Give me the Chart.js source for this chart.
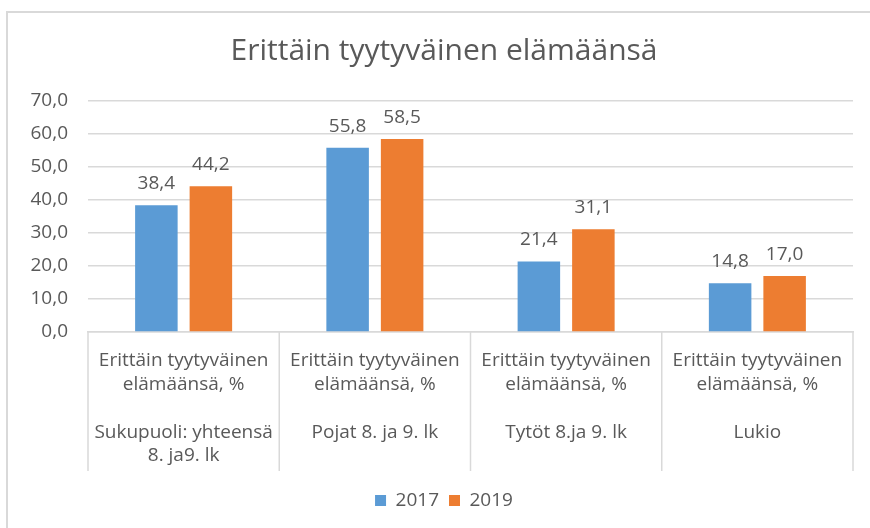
<!DOCTYPE html>
<html>
<head>
<meta charset="utf-8">
<script src="https://cdn.jsdelivr.net/npm/chart.js@4.4.1/dist/chart.umd.min.js"></script>
<style>
  html, body { margin: 0; padding: 0; background: #fff; }
  #wrap { position: relative; width: 870px; height: 528px; overflow: hidden; }
  #frame { position: absolute; left: 6px; top: 11px; width: 900px; height: 540px; border: 2px solid #d9d9d9; box-sizing: border-box; }
  #chart { position: absolute; left: 0; top: 0; }
</style>
</head>
<body>
<div id="wrap">
  <div id="frame"></div>
  <canvas id="chart" width="897" height="528"></canvas>
</div>
<script>
const chartTitle = "Erittäin tyytyväinen elämäänsä";
const groupLabel = ["Erittäin tyytyväinen", "elämäänsä, %"];
const categories = [
  ["Sukupuoli: yhteensä", "8. ja9. lk"],
  ["Pojat 8. ja 9. lk"],
  ["Tytöt 8.ja 9. lk"],
  ["Lukio"]
];
const seriesNames = ["2017", "2019"];
const values2017 = [38.4, 55.8, 21.4, 14.8];
const values2019 = [44.2, 58.5, 31.1, 17.0];
const seriesColors = ["#5B9BD5", "#ED7D31"];
const yTicks = { min: 0, max: 70, step: 10 };

const textColor = "#595959";
const gridColor = "#d9d9d9";
const fontFamily = "'Open Sans', sans-serif";

const fmt = (v) => v.toFixed(1).replace(".", ",");

// tick labels: group line(s), a blank line, then the category
const xLabels = categories.map((c) => [...groupLabel, " ", ...c]);

// value labels above the bars
const barLabels = {
  id: "barLabels",
  afterDatasetsDraw(chart) {
    const ctx = chart.ctx;
    ctx.save();
    ctx.font = "19px " + fontFamily;
    ctx.fillStyle = textColor;
    ctx.textAlign = "center";
    ctx.textBaseline = "alphabetic";
    chart.data.datasets.forEach((ds, i) => {
      chart.getDatasetMeta(i).data.forEach((bar, j) => {
        ctx.fillText(fmt(ds.data[j]), bar.x, bar.y - 16);
      });
    });
    ctx.restore();
  }
};

// vertical separators between categories in the label area
const catSeparators = {
  id: "catSeparators",
  afterDraw(chart) {
    const x = chart.scales.x;
    const n = categories.length;
    const ctx = chart.ctx;
    ctx.save();
    ctx.strokeStyle = gridColor;
    ctx.lineWidth = 1.5;
    for (let i = 0; i <= n; i++) {
      const px = x.left + (x.width / n) * i;
      ctx.beginPath();
      ctx.moveTo(px, x.top);
      ctx.lineTo(px, x.top + 139);
      ctx.stroke();
    }
    ctx.restore();
  }
};

new Chart(document.getElementById("chart"), {
  type: "bar",
  data: {
    labels: xLabels,
    datasets: [
      { label: seriesNames[0], data: values2017, backgroundColor: seriesColors[0] },
      { label: seriesNames[1], data: values2019, backgroundColor: seriesColors[1] }
    ]
  },
  options: {
    responsive: false,
    animation: false,
    events: [],
    categoryPercentage: 0.57,
    barPercentage: 0.78,
    layout: { padding: { left: 8, right: 17, top: 0, bottom: 8 } },
    plugins: {
      title: {
        display: true,
        text: chartTitle,
        color: textColor,
        font: { family: fontFamily, size: 30, weight: "normal" },
        padding: { top: 33, bottom: 32 }
      },
      legend: {
        position: "bottom",
        labels: {
          color: textColor,
          font: { family: fontFamily, size: 19 },
          boxWidth: 11,
          boxHeight: 11,
          padding: 10
        }
      },
      tooltip: { enabled: false }
    },
    scales: {
      x: {
        afterFit: (s) => { s.height = 149; },
        grid: { display: false },
        border: { display: true, color: gridColor, width: 1.5 },
        ticks: {
          color: textColor,
          font: { family: fontFamily, size: 19, lineHeight: 1.25 },
          maxRotation: 0,
          autoSkip: false,
          padding: 9
        }
      },
      y: {
        min: yTicks.min,
        max: yTicks.max,
        afterFit: (s) => { s.width = 80; },
        grid: { color: gridColor, lineWidth: 1.5, drawTicks: false },
        border: { display: false },
        ticks: {
          stepSize: yTicks.step,
          color: textColor,
          font: { family: fontFamily, size: 19 },
          padding: 20,
          callback: (v) => fmt(v)
        }
      },
      // empty spacer on the right so title and legend centre like the original frame
      spacer: {
        type: "linear",
        position: "right",
        afterFit: (s) => { s.width = 27; },
        grid: { display: false },
        border: { display: false },
        ticks: { display: false }
      }
    }
  },
  plugins: [barLabels, catSeparators]
});
</script>
</body>
</html>
